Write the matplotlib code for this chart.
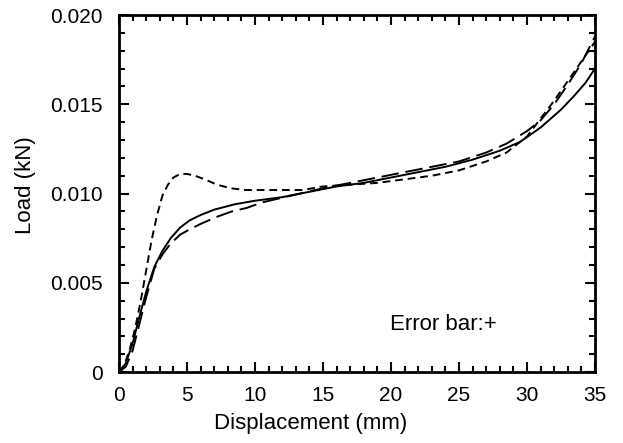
import matplotlib
matplotlib.use('Agg')
import matplotlib.pyplot as plt
from matplotlib.ticker import MultipleLocator, FuncFormatter

plt.rcParams['font.family'] = ['Liberation Sans', 'DejaVu Sans']

# solid curve
solid_x = [0, 0.5, 1.0, 1.5, 2.0, 2.6, 3.2, 3.8, 4.5, 5.2, 6.0, 7.0, 8.5, 10, 12, 14,
           16, 18, 20, 22, 24, 26, 28, 29.5, 31, 32.5, 33.5, 34.3, 35]
solid_y = [0, 0.0005, 0.0016, 0.0031, 0.0045, 0.0059, 0.0068, 0.0075, 0.0081, 0.0085,
           0.0088, 0.0091, 0.0094, 0.0096, 0.0098, 0.0101, 0.0104, 0.0106, 0.0109,
           0.0112, 0.0115, 0.0119, 0.0124, 0.0129, 0.0137, 0.0147, 0.0155, 0.0162, 0.0170]

# short dashed curve (with early peak)
short_x = [0, 0.4, 0.8, 1.2, 1.6, 2.0, 2.4, 2.8, 3.2, 3.6, 4.0, 4.5, 5.0, 5.6, 6.3,
           7.2, 8.2, 9.3, 10.5, 12, 13.5, 15, 17, 19, 21, 23, 25, 27, 28.5, 30, 31,
           32, 33, 34, 35]
short_y = [0, 0.0004, 0.0013, 0.0025, 0.0040, 0.0057, 0.0074, 0.0088, 0.0099, 0.0105,
           0.0109, 0.0111, 0.0111, 0.0110, 0.0108, 0.0105, 0.0103, 0.0102, 0.0102,
           0.0102, 0.0102, 0.0104, 0.0105, 0.0106, 0.0108, 0.0110, 0.0113, 0.0118,
           0.0123, 0.0132, 0.0142, 0.0152, 0.0163, 0.0174, 0.0185]

# long dashed curve
long_x = [0, 0.5, 1.0, 1.5, 2.0, 2.6, 3.2, 3.8, 4.5, 5.2, 6.0, 7.2, 8.3, 9.4, 10.5,
          11.6, 13.3, 15, 17, 19, 21, 23, 25, 27, 28.5, 30, 31, 32, 33, 34, 35]
long_y = [0, 0.0003, 0.0012, 0.0027, 0.0042, 0.0058, 0.0066, 0.0072, 0.0077, 0.0080,
          0.0083, 0.0087, 0.0090, 0.0092, 0.0095, 0.0097, 0.0100, 0.0103, 0.0106,
          0.0109, 0.0112, 0.0115, 0.0118, 0.0123, 0.0128, 0.0135, 0.0141, 0.0150,
          0.0161, 0.0173, 0.0188]

fig = plt.figure(figsize=(6.23, 4.43), dpi=100)
ax = fig.add_axes([0.191, 0.160, 0.764, 0.806])

ax.plot(solid_x, solid_y, color='black', linewidth=1.4)
ax.plot(short_x, short_y, color='black', linewidth=1.4, dashes=(4, 2.5))
ax.plot(long_x, long_y, color='black', linewidth=1.4, dashes=(9, 3.5))

ax.set_xlim(0, 35)
ax.set_ylim(0, 0.020)
ax.xaxis.set_major_locator(MultipleLocator(5))
ax.xaxis.set_minor_locator(MultipleLocator(1))
ax.yaxis.set_major_locator(MultipleLocator(0.005))
ax.yaxis.set_minor_locator(MultipleLocator(0.001))
ax.yaxis.set_major_formatter(FuncFormatter(lambda v, p: '0' if abs(v) < 1e-9 else '%.3f' % v))

ax.tick_params(which='both', direction='in', top=True, right=True,
               labelsize=15, width=1.5)
ax.tick_params(axis='x', pad=10)
ax.tick_params(axis='y', pad=11.5)
ax.tick_params(which='major', length=7)
ax.tick_params(which='minor', length=4)
for s in ax.spines.values():
    s.set_linewidth(2)

ax.set_xlabel('Displacement (mm)', fontsize=16)
ax.set_ylabel('Load (kN)', fontsize=16)
# labels sit a bit off the axes centre in the original
ax.xaxis.set_label_coords(0.403, -0.115)
ax.yaxis.set_label_coords(-0.175, 0.524)

ax.text(19.9, 0.00265, 'Error bar:+', fontsize=16, va='center', ha='left')

fig.savefig('out.png', dpi=100)
